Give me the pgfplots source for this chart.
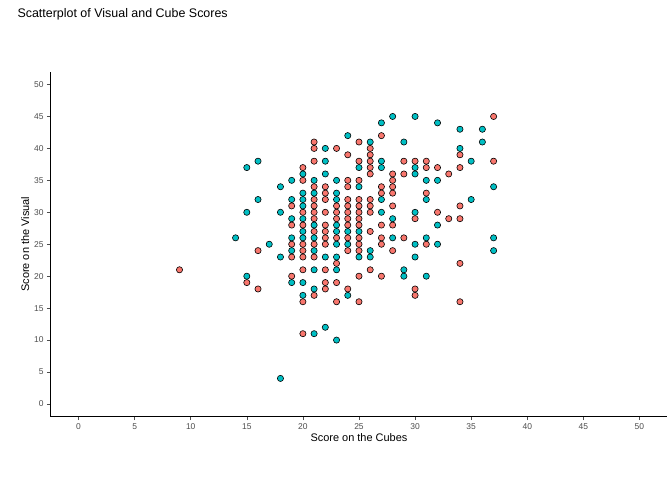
\documentclass[border=0pt]{standalone}
\usepackage{pgfplots}
\pgfplotsset{compat=1.18}
\usepackage{fontspec}
\setmainfont{Liberation Sans}
\definecolor{cG}{HTML}{F8766D}
\definecolor{cP}{HTML}{00BFC4}
\definecolor{tk}{HTML}{4D4D4D}
\begin{document}
\begin{tikzpicture}[x=1bp,y=1bp]
\useasboundingbox (0,0) rectangle (672,480);
\node[anchor=west,font=\fontsize{12.5}{14}\selectfont] at (14,466) {Scatterplot of Visual and Cube Scores};
\begin{axis}[at={(45,99)},anchor=south west,scale only axis,width=617bp,height=345bp,
 xmin=-2.5,xmax=52.5,ymin=-2,ymax=52,
 axis lines*=left, axis line style={black,line width=0.5pt},
 xtick={0,5,...,50}, ytick={0,5,...,50},
 tick style={tk,line width=0.5pt}, major tick length=3.5bp,
 tick align=outside,
 ticklabel style={font=\fontsize{8.5}{10}\selectfont,text=tk},
 /pgf/number format/assume math mode=true,
 xlabel={Score on the Cubes}, ylabel={Score on the Visual},
 label style={font=\fontsize{11}{13}\selectfont},
 xlabel style={yshift=3bp}, ylabel style={yshift=-2bp},
 legend columns=3,
 legend style={at={(0.5,-0.215)},anchor=center,draw=none,font=\fontsize{8.5}{10}\selectfont,
   /tikz/every even column/.append style={column sep=10bp}},
 clip=false]
\addlegendimage{empty legend}
\addlegendentry{\hspace{-14bp}\fontsize{11}{13}\selectfont factor(school)}
\addlegendimage{only marks,mark=*,mark size=2.3bp,color=cG}
\addlegendentry{Grant-White}
\addlegendimage{only marks,mark=*,mark size=2.3bp,color=cP}
\addlegendentry{Pasteur}
\addplot[forget plot,only marks,mark=*,mark size=3.1bp,mark options={fill=cG,draw=black,line width=0.6pt}] coordinates {
(9,21)(15,19)(16,24)(16,18)
(19,31)(19,28)(19,25)(19,23)(19,20)
(20,37)(20,35)(20,30)(20,28)(20,25)(20,24)(20,23)(20,21)(20,16)(20,11)
(21,41)(21,40)(21,38)(21,34)(21,32)(21,31)(21,30)(21,29)(21,27)(21,25)(21,23)(21,17)
(22,34)(22,33)(22,32)(22,30)(22,28)(22,27)(22,26)(22,25)(22,21)(22,19)(22,18)
(23,40)(23,31)(23,30)(23,29)(23,26)(23,22)(23,19)(23,16)
(24,39)(24,35)(24,34)(24,32)(24,31)(24,30)(24,29)(24,28)(24,26)(24,24)(24,18)
(25,41)(25,38)(25,35)(25,32)(25,31)(25,30)(25,29)(25,28)(25,26)(25,25)(25,24)(25,20)(25,16)
(26,40)(26,39)(26,38)(26,37)(26,36)(26,32)(26,31)(26,30)(26,27)(26,21)
(27,42)(27,34)(27,33)(27,28)(27,26)(27,25)(27,20)
(28,36)(28,35)(28,34)(28,33)(28,31)(28,28)(28,24)
(29,38)(29,36)(29,26)
(30,38)(30,29)(30,18)(30,17)
(31,38)(31,37)(31,33)(31,25)
(32,37)(32,30)(33,36)(33,29)
(34,39)(34,37)(34,31)(34,29)(34,22)(34,16)
(37,45)(37,38)
};
\addplot[forget plot,only marks,mark=*,mark size=3.1bp,mark options={fill=cP,draw=black,line width=0.6pt}] coordinates {
(14,26)(15,37)(15,30)(15,20)(16,38)(16,32)(17,25)
(18,34)(18,30)(18,23)(18,4)
(19,35)(19,32)(19,29)(19,26)(19,24)(19,19)
(20,36)(20,33)(20,32)(20,31)(20,29)(20,27)(20,26)(20,19)(20,17)
(21,35)(21,33)(21,28)(21,26)(21,24)(21,21)(21,18)(21,11)
(22,40)(22,38)(22,36)(22,23)(22,12)
(23,35)(23,33)(23,32)(23,28)(23,27)(23,25)(23,23)(23,21)(23,10)
(24,42)(24,27)(24,25)(24,17)
(25,37)(25,34)(25,27)(25,23)
(26,41)(26,24)(26,23)
(27,44)(27,38)(27,37)(27,32)(27,30)
(28,45)(28,29)(28,26)
(29,41)(29,21)(29,20)
(30,45)(30,37)(30,36)(30,30)(30,25)(30,23)
(31,35)(31,32)(31,26)(31,20)
(32,44)(32,35)(32,28)(32,25)
(34,43)(34,40)(35,38)(35,32)(36,43)(36,41)
(37,34)(37,26)(37,24)
};
\end{axis}
\end{tikzpicture}
\end{document}
